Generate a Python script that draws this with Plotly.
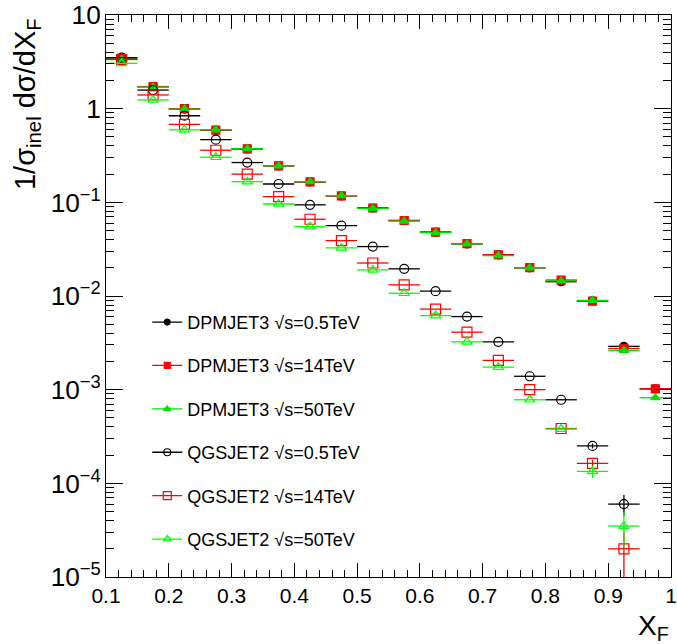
import plotly.graph_objects as go

xf = [0.125, 0.175, 0.225, 0.275, 0.325, 0.375, 0.425, 0.475, 0.525,
      0.575, 0.625, 0.675, 0.725, 0.775, 0.825, 0.875, 0.925, 0.975]
half_bin = 0.025

dpm05 = [3.45, 1.72, 0.99, 0.59, 0.372, 0.245, 0.165, 0.117, 0.087,
         0.064, 0.048, 0.036, 0.0275, 0.020, 0.0142, 0.0089, 0.0029, 0.00102]
dpm14 = [3.45, 1.72, 1.0, 0.59, 0.372, 0.245, 0.165, 0.117, 0.087,
         0.064, 0.048, 0.0363, 0.0275, 0.0201, 0.0148, 0.0088, 0.00275, 0.00102]
dpm50 = [3.40, 1.70, 0.99, 0.595, 0.375, 0.245, 0.166, 0.118, 0.086,
         0.063, 0.0475, 0.036, 0.027, 0.020, 0.0145, 0.0090, 0.00262, 0.00082]
qgs05 = [3.5, 1.58, 0.84, 0.467, 0.266, 0.157, 0.094, 0.0564, 0.0337,
         0.0195, 0.01125, 0.00603, 0.00324, 0.00139, 0.00078, 0.000251, 6.0e-5, None]
qgs14 = [3.35, 1.40, 0.68, 0.36, 0.20, 0.115, 0.066, 0.039, 0.0225,
         0.01315, 0.00723, 0.00411, 0.00205, 0.00100, 0.000385, 0.000163, 2.0e-5, None]
qgs50 = [3.05, 1.24, 0.593, 0.303, 0.166, 0.096, 0.055, 0.0326, 0.019,
         0.0107, 0.00618, 0.00324, 0.00174, 0.00078, 0.00038, 0.000134, 3.5e-5, None]

dpm05_err = [0]*16 + [0.0001, 0.00004]
dpm14_err = [0]*16 + [0.0001, 0.00004]
dpm50_err = [0]*16 + [0.0001, 0.00004]
qgs05_err = [0]*15 + [1.5e-5, 1.5e-5, 0]
qgs14_err = [0]*15 + [1.5e-5, 1.0e-5, 0]
qgs50_err = [0]*15 + [2.0e-5, 1.4e-5, 0]

labels = ["DPMJET3 √s=0.5TeV", "DPMJET3 √s=14TeV", "DPMJET3 √s=50TeV",
          "QGSJET2 √s=0.5TeV", "QGSJET2 √s=14TeV", "QGSJET2 √s=50TeV"]
series = [dpm05, dpm14, dpm50, qgs05, qgs14, qgs50]
errors = [dpm05_err, dpm14_err, dpm50_err, qgs05_err, qgs14_err, qgs50_err]
colors = ["#000000", "#ff0000", "#00e000", "#000000", "#ff0000", "#00ff00"]
symbols = ["circle", "square", "triangle-up",
           "circle-open", "square-open", "triangle-up-open"]
sizes = [8, 8, 8, 9, 10, 9]

fig = go.Figure()
for lab, ys, er, col, sym, sz in zip(labels, series, errors, colors, symbols, sizes):
    fig.add_trace(go.Scatter(
        x=xf, y=ys, mode="markers", showlegend=False, cliponaxis=True,
        marker=dict(symbol=sym, size=sz, color=col, line=dict(color=col, width=1.2)),
        error_x=dict(type="constant", value=half_bin, color=col, thickness=1.3, width=0),
        error_y=dict(type="data", array=er, color=col, thickness=1.3, width=0),
    ))
for i, (lab, col, sym, sz) in enumerate(zip(labels, colors, symbols, sizes)):
    fig.add_trace(go.Scatter(
        x=[None], y=[None], mode="lines+markers", name=lab, legendgroup=f"g{i}",
        marker=dict(symbol=sym, size=sz - 2, color=col, line=dict(color=col, width=1.2)),
        line=dict(color=col, width=1.3),
    ))

axis_font = dict(family="Liberation Sans, Arial", size=21, color="black")
fig.update_layout(
    width=677, height=644,
    margin=dict(l=106, r=6, t=15, b=67),
    paper_bgcolor="white", plot_bgcolor="white",
    font=dict(family="Liberation Sans, Arial", color="black"),
    showlegend=True,
    legend=dict(x=0.073, y=0.486, xanchor="left", yanchor="top",
                font=dict(size=18, color="black"), bgcolor="rgba(0,0,0,0)",
                tracegroupgap=17),
    xaxis=dict(range=[0.1, 1.0], dtick=0.1, tick0=0.1, showgrid=False, zeroline=False,
               automargin=False, ticklabeloverflow="allow",
               ticks="inside", ticklen=14, tickcolor="black", tickwidth=1,
               showline=True, linecolor="black", linewidth=1, mirror="allticks",
               tickfont=axis_font,
               minor=dict(ticks="inside", ticklen=7, dtick=0.02, tickcolor="black", showgrid=False)),
    yaxis=dict(type="log", range=[-5, 1], dtick=1, exponentformat="power",
               showgrid=False, zeroline=False, automargin=False, ticklabeloverflow="allow",
               ticks="inside", ticklen=17, tickcolor="black", tickwidth=1,
               showline=True, linecolor="black", linewidth=1, mirror="allticks",
               tickfont=axis_font,
               minor=dict(ticks="inside", ticklen=8, dtick="D1", tickcolor="black", showgrid=False)),
    annotations=[
        dict(text="1/σ<sub>inel</sub> dσ/dX<sub>F</sub>", xref="paper", yref="paper",
             x=-0.14, y=0.998, xanchor="center", yanchor="top", textangle=-90,
             showarrow=False, font=dict(size=29, color="black")),
        dict(text="X<sub>F</sub>", xref="paper", yref="paper",
             x=1.0, y=-0.055, xanchor="right", yanchor="top",
             showarrow=False, font=dict(size=28, color="black")),
    ],
)
# remove the default 8px page margin so the figure sits at the window's corner
fig.write_html("out.html", config={"displayModeBar": False},
               post_script="document.body.style.margin='0';")
